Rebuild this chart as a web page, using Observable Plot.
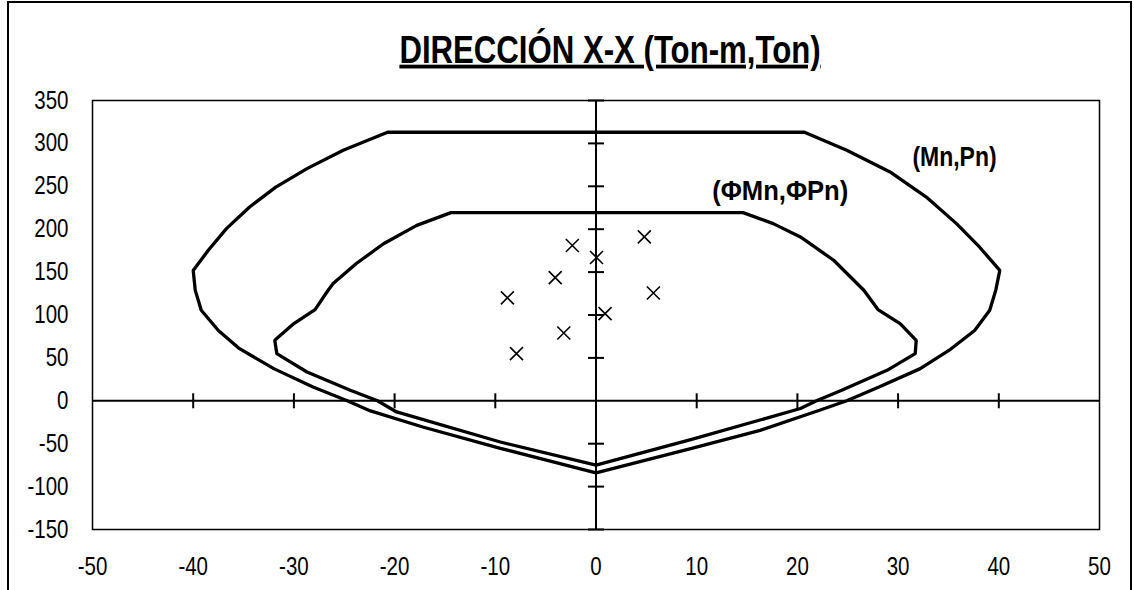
<!DOCTYPE html>
<html><head><meta charset="utf-8">
<script src="https://cdn.jsdelivr.net/npm/d3@7"></script>
<script src="https://cdn.jsdelivr.net/npm/@observablehq/plot@0.6"></script>
<style>
body{margin:0;background:#fff;}
#wrap{position:relative;width:1134px;height:590px;overflow:hidden;background:#fff;}
#border{position:absolute;left:7px;top:1px;width:1125px;height:640px;border:2px solid #000;box-sizing:border-box;}
#chart{position:absolute;left:0;top:0;}
</style></head><body>
<div id="wrap"><div id="border"></div><div id="chart"></div></div>
<script>
// Nominal interaction curve (Mn, Pn)
const outerM = [0, -9.5, -17.2, -22.4, -24.7, -28.1, -32.0, -35.4, -37.5, -39.2, -39.8, -40.0, -38.5, -36.7, -34.4, -31.8, -28.7, -25.1, -20.7,
                20.7, 24.9, 29.2, 32.8, 35.8, 38.1, 40.1, 39.7, 39.1, 37.6, 35.2, 32.2, 28.1, 24.9, 22.2, 16.3, 9.5, 0];
const outerP = [-84, -55.4, -30.5, -11.8, 0, 16, 37.5, 60.8, 82, 105.5, 129, 152, 175.4, 200.7, 225.9, 249, 270.6, 292, 313,
                313, 292, 266.7, 237.5, 206.5, 179, 152, 129, 105.5, 82, 60, 37.5, 16, 0, -11, -34.4, -55.4, -84];
// Design interaction curve (ΦMn, ΦPn)
const innerM = [0, -9.5, -19.8, -21.7, -24.4, -28.7, -31.7, -31.9, -30.0, -27.9, -26.6, -26.1, -23.8, -21.1, -17.8, -14.4,
                14.6, 17.6, 20.3, 23.6, 26.6, 28.0, 30.2, 31.8, 31.7, 28.9, 24.4, 21.9, 20.3, 9.5, 0];
const innerP = [-75, -48, -13, 0, 12.2, 33.6, 55, 70.5, 90, 106.3, 128.8, 136.6, 160, 183, 204.5, 219.3,
                219.3, 206.5, 191, 163.8, 128.8, 106.3, 90, 70.5, 55, 35.5, 12.2, 0, -9, -45, -75];
// Demand points (Mu, Pu)
const demandM = [-2.35, 4.8, 0.05, -4.05, -8.8, 5.7, 0.9, -3.2, -7.9];
const demandP = [181, 191, 167, 143.6, 120, 125.6, 101.6, 79, 55];
// Axis ticks
const xTicks = [-50, -40, -30, -20, -10, 0, 10, 20, 30, 40, 50];
const yTicks = [-150, -100, -50, 0, 50, 100, 150, 200, 250, 300, 350];
const crossTicksX = [-40, -30, -20, -10, 10, 20, 30, 40];
const crossTicksY = [-150, -100, -50, 50, 100, 150, 200, 250, 300, 350];
const titleText = "DIRECCIÓN X-X (Ton-m,Ton)";
const labelM = [35.6, 18.3];
const labelP = [284, 245];
const labelT = ["(Mn,Pn)", "(ΦMn,ΦPn)"];

const outer = outerM.map((m, i) => ({m, p: outerP[i]}));
const inner = innerM.map((m, i) => ({m, p: innerP[i]}));
const demand = demandM.map((m, i) => ({m, p: demandP[i]}));
const labels = labelT.map((t, i) => ({m: labelM[i], p: labelP[i], t}));

const rad = s => Math.sqrt(s / Math.PI);
const vbar = {draw(c, s) { const r = rad(s); c.moveTo(0, -r); c.lineTo(0, r); }};
const hbar = {draw(c, s) { const r = rad(s); c.moveTo(-r, 0); c.lineTo(r, 0); }};
const times = {draw(c, s) { const r = rad(s); c.moveTo(-r, -r); c.lineTo(r, r); c.moveTo(-r, r); c.lineTo(r, -r); }};

const FONT = "'Liberation Sans Narrow', 'Arial Narrow', 'Liberation Sans', Arial, sans-serif";

const plot = Plot.plot({
  width: 1134, height: 590,
  marginLeft: 92, marginRight: 35, marginTop: 100, marginBottom: 61,
  x: {domain: [-50, 50], label: null},
  y: {domain: [-150, 350], label: null},
  style: {fontFamily: FONT, fontSize: "25px", color: "#000", background: "transparent", overflow: "visible"},
  marks: [
    Plot.axisX({ticks: xTicks, tickSize: 0, tickPadding: 28, tickFormat: d => String(d), fontSize: 25, label: null}),
    Plot.axisY({ticks: yTicks, tickSize: 0, tickPadding: 24, tickFormat: d => String(d), fontSize: 25, label: null}),
    Plot.frame({stroke: "#000", strokeWidth: 1.5}),
    Plot.ruleY([0], {stroke: "#000", strokeWidth: 2}),
    Plot.ruleX([0], {stroke: "#000", strokeWidth: 2}),
    Plot.dot(crossTicksX, {x: d => d, y: 0, symbol: vbar, r: 7.5, stroke: "#000", strokeWidth: 2, fill: "none"}),
    Plot.dot(crossTicksY, {x: 0, y: d => d, symbol: hbar, r: 8, stroke: "#000", strokeWidth: 2, fill: "none"}),
    Plot.line(outer, {x: "m", y: "p", stroke: "#000", strokeWidth: 3.3, strokeLinejoin: "miter"}),
    Plot.line(inner, {x: "m", y: "p", stroke: "#000", strokeWidth: 3.3, strokeLinejoin: "miter"}),
    Plot.dot(demand, {x: "m", y: "p", symbol: times, r: 6.5, stroke: "#000", strokeWidth: 1.6, fill: "none"}),
    Plot.text(labels, {x: "m", y: "p", text: "t", fontSize: 28, fontWeight: "bold", fill: "#000"}),
    Plot.text([titleText], {text: d => d, frameAnchor: "top", lineAnchor: "middle", dy: -50, dx: 14, fontSize: 38, fontWeight: "bold", fill: "#000"})
  ]
});
document.getElementById("chart").appendChild(plot);
d3.select(plot).selectAll("text").filter(function() { return this.textContent === titleText; })
  .style("text-decoration", "underline").style("text-underline-offset", "6px").style("text-decoration-thickness", "2.5px");
// emulate a narrow (condensed) face
const narrow = t => t.indexOf("Φ") >= 0 ? 0.915 : 0.82;
d3.select(plot).selectAll("text").each(function() {
  if (this.querySelector("tspan")) return;
  const len = this.getComputedTextLength();
  if (len > 0) {
    this.setAttribute("textLength", (len * narrow(this.textContent)).toFixed(2));
    this.setAttribute("lengthAdjust", "spacingAndGlyphs");
  }
});
</script>
</body></html>
